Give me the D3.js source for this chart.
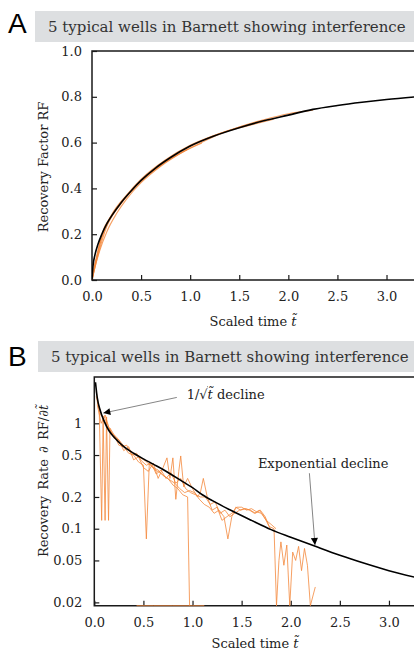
<!DOCTYPE html>
<html>
<head>
<meta charset="utf-8">
<script src="https://cdn.jsdelivr.net/npm/d3@7"></script>
<style>
  body { margin: 0; background: #fff; }
  svg { display: block; }
  text { font-family: "DejaVu Serif", serif; fill: #222; }
</style>
</head>
<body>
<svg id="chart" width="414" height="652"></svg>
<script>
// ---- data ----
const panelTitle = '5 typical wells in Barnett showing interference';
const xTicks = [0, 0.5, 1.0, 1.5, 2.0, 2.5, 3.0];
const rfTicks = [0, 0.2, 0.4, 0.6, 0.8, 1.0];
const rateTicks = [0.02, 0.05, 0.1, 0.2, 0.5, 1];

// scaling curve, recovery factor vs scaled time
const modelT  = [0, 0.01, 0.03, 0.06, 0.1, 0.15, 0.2, 0.3, 0.4, 0.5, 0.65, 0.8, 1.0, 1.25, 1.5, 1.75, 2.0, 2.25, 2.5, 2.75, 3.0, 3.3];
const modelRF = [0, 0.06, 0.11, 0.155, 0.2, 0.245, 0.28, 0.34, 0.39, 0.435, 0.49, 0.535, 0.585, 0.63, 0.665, 0.695, 0.72, 0.745, 0.762, 0.776, 0.788, 0.80];

// scaling curve, recovery rate vs scaled time
const modelRateT = [0.012, 0.03, 0.06, 0.1, 0.15, 0.2, 0.3, 0.4, 0.5, 0.6, 0.7, 0.8, 0.9, 1.0, 1.1, 1.25, 1.4, 1.6, 1.8, 2.0, 2.25, 2.5, 2.75, 3.0, 3.3];
const modelRate  = [2.45, 1.75, 1.33, 1.05, 0.85, 0.74, 0.6, 0.52, 0.46, 0.41, 0.365, 0.32, 0.28, 0.245, 0.21, 0.175, 0.148, 0.12, 0.098, 0.083, 0.068, 0.056, 0.047, 0.04, 0.034];

// wells: recovery factor [t, RF]
const wellsRF = [
  [[0,0],[0.02,0.05],[0.05,0.1],[0.1,0.185],[0.2,0.275],[0.3,0.338],[0.4,0.388],[0.5,0.432],[0.7,0.5],[0.9,0.553],[1.1,0.597],[1.3,0.636],[1.5,0.668],[1.75,0.7],[2.0,0.726],[2.25,0.742]],
  [[0,0],[0.03,0.055],[0.08,0.13],[0.15,0.21],[0.25,0.29],[0.35,0.352],[0.5,0.425],[0.7,0.497],[0.97,0.57]],
  [[0,0],[0.03,0.07],[0.1,0.19],[0.2,0.285],[0.35,0.37],[0.5,0.44],[0.75,0.525],[1.0,0.588],[1.25,0.632],[1.5,0.668],[1.75,0.698]],
  [[0,0],[0.04,0.08],[0.1,0.2],[0.2,0.283],[0.4,0.39],[0.6,0.47],[0.8,0.535],[1.0,0.583],[1.3,0.64],[1.6,0.675],[1.85,0.702]],
  [[0,0],[0.05,0.09],[0.15,0.235],[0.3,0.335],[0.5,0.433],[0.8,0.53],[1.12,0.598]]
];

// wells: recovery rate [t, rate], 0 = no production that month
const wellsRate = [
  [[0.03,1.6],[0.08,1.15],[0.13,0.95],[0.18,0.8],[0.23,0.72],[0.28,0.6],[0.33,0.62],[0.38,0.5],[0.43,0.52],[0.48,0.44],[0.53,0.4],[0.58,0.42],[0.63,0.33],[0.68,0.36],[0.73,0.3],[0.78,0.34],[0.83,0.27],[0.88,0.3],[0.93,0.24],[0.98,0.22],[1.03,0.21],[1.08,0.2],[1.13,0.2],[1.18,0.17],[1.23,0.18],[1.28,0.14],[1.33,0.15],[1.38,0.13],[1.43,0.14],[1.48,0.15],[1.53,0.155],[1.58,0.15],[1.63,0.14],[1.68,0.15],[1.73,0.13],[1.78,0.105],[1.83,0.1],[1.855,0],[1.88,0.05],[1.9,0.075],[1.93,0.045],[1.96,0.07],[1.99,0],[2.02,0.06],[2.05,0.05],[2.08,0.068],[2.11,0.04],[2.14,0.065],[2.17,0.045],[2.2,0],[2.25,0.028]],
  [[0.02,2.0],[0.05,1.35],[0.075,0.12],[0.09,1.1],[0.11,0.12],[0.125,1.15],[0.145,0.12],[0.16,0.9],[0.2,0.78],[0.25,0.62],[0.3,0.6],[0.35,0.52],[0.4,0.5],[0.45,0.43],[0.5,0.4],[0.53,0.08],[0.56,0.42],[0.6,0.38],[0.65,0.36],[0.7,0.32],[0.75,0.3],[0.8,0.26],[0.85,0.24],[0.9,0.21],[0.95,0.2],[0.97,0]],
  [[0.02,1.8],[0.06,1.2],[0.1,1.15],[0.14,0.95],[0.18,0.8],[0.22,0.75],[0.27,0.66],[0.32,0.58],[0.37,0.55],[0.42,0.5],[0.47,0.47],[0.52,0.44],[0.57,0.4],[0.62,0.36],[0.67,0.34],[0.72,0.31],[0.77,0.29],[0.82,0.27],[0.87,0.24],[0.92,0.22],[0.97,0.23],[1.02,0.22],[1.07,0.19],[1.12,0.17],[1.17,0.16],[1.22,0.14],[1.27,0.15],[1.32,0.13],[1.36,0.08],[1.4,0.13],[1.44,0.16],[1.49,0.15],[1.54,0.155],[1.59,0.15],[1.64,0.14],[1.69,0.15],[1.74,0.13],[1.79,0.1]],
  [[0.03,1.5],[0.07,1.0],[0.11,1.2],[0.15,0.9],[0.2,0.72],[0.25,0.7],[0.3,0.55],[0.35,0.6],[0.4,0.45],[0.45,0.48],[0.5,0.38],[0.55,0.35],[0.6,0.42],[0.65,0.3],[0.7,0.38],[0.74,0.47],[0.77,0.3],[0.8,0.47],[0.83,0.19],[0.86,0.35],[0.88,0.49],[0.91,0.25],[0.95,0.3],[1.0,0.24],[1.05,0.2],[1.08,0.22],[1.11,0.3],[1.15,0.2],[1.2,0.15],[1.25,0.16],[1.3,0.12],[1.35,0.13],[1.4,0.14],[1.45,0.16],[1.5,0.16],[1.55,0.15],[1.6,0.155],[1.65,0.145],[1.7,0.14],[1.75,0.12],[1.8,0.11],[1.85,0.1]],
  [[0.43,0],[0.6,0],[0.8,0],[1.0,0],[1.12,0]]
];

// ---- layout ----
const svg = d3.select('#chart');
const W = 414;
const tickFont = '13px';
const orange = '#f4883c';

const xA = d3.scaleLinear().domain([0, 3.28]).range([92, W]);
const yA = d3.scaleLinear().domain([0, 1]).range([280, 51]);
const xB = d3.scaleLinear().domain([0, 3.255]).range([94.3, W]);
const yB = d3.scaleLog().domain([0.0186, 2.75]).range([605.7, 377]);

const defs = svg.append('defs');
defs.append('clipPath').attr('id', 'clipA')
  .append('rect').attr('x', xA(0)).attr('y', yA(1)).attr('width', W - xA(0)).attr('height', yA(0) - yA(1));
defs.append('clipPath').attr('id', 'clipB')
  .append('rect').attr('x', xB(0)).attr('y', yB.range()[1]).attr('width', W - xB(0)).attr('height', yB.range()[0] - yB.range()[1] + 1);
defs.append('marker')
  .attr('id', 'head')
  .attr('viewBox', '0 0 10 10')
  .attr('refX', 10).attr('refY', 5)
  .attr('markerWidth', 9).attr('markerHeight', 7)
  .attr('markerUnits', 'userSpaceOnUse')
  .attr('orient', 'auto')
  .append('path').attr('d', 'M0,0L10,5L0,10Z').attr('fill', '#000');

// panel letter + grey title band
const header = (letter, y0, boxX, letterBase) => {
  svg.append('rect')
    .attr('x', boxX).attr('y', y0)
    .attr('width', W - boxX).attr('height', 31)
    .attr('fill', '#dddfe1');
  svg.append('text')
    .attr('x', boxX + 13).attr('y', y0 + 15.5)
    .attr('dy', '0.35em')
    .style('font-size', '15px')
    .style('fill', '#333')
    .text(panelTitle);
  svg.append('text')
    .attr('x', 8).attr('y', letterBase)
    .style('font-family', '"Liberation Sans", "DejaVu Sans", Arial, sans-serif')
    .style('font-size', '28px')
    .style('fill', '#000')
    .text(letter);
};
header('A', 11, 35, 33);
header('B', 341, 38, 366);

// spines: top, left, bottom (right edge is cut by the frame)
const spines = (g, x0, yTop, yBot) => {
  g.append('path')
    .attr('d', `M${W + 2},${yTop}H${x0}V${yBot}H${W + 2}`)
    .attr('fill', 'none')
    .attr('stroke', '#1a1a1a')
    .attr('stroke-width', 1.5);
};

const styleAxis = g => {
  g.attr('font-family', null);
  g.select('.domain').remove();
  g.selectAll('line').attr('stroke', '#1a1a1a').attr('stroke-width', 1.2);
  g.selectAll('text').style('font-size', tickFont).style('fill', '#222');
};

// ---------- panel A ----------
const gA = svg.append('g');
spines(gA, xA(0), yA(1), yA(0));

gA.append('g')
  .attr('transform', `translate(0, ${yA(0)})`)
  .call(d3.axisBottom(xA).tickValues(xTicks).tickFormat(d3.format('.1f')).tickSizeInner(-5).tickSizeOuter(0).tickPadding(12))
  .call(styleAxis);
gA.append('g')
  .attr('transform', `translate(${xA(0)}, 0)`)
  .call(d3.axisLeft(yA).tickValues(rfTicks).tickFormat(d3.format('.1f')).tickSizeInner(-5).tickSizeOuter(0).tickPadding(10))
  .call(styleAxis);

const lineA = d3.line().x(d => xA(d[0])).y(d => yA(d[1])).curve(d3.curveMonotoneX);
const plotA = gA.append('g').attr('clip-path', 'url(#clipA)');
plotA.selectAll('.well')
  .data(wellsRF)
  .enter()
  .append('path')
  .attr('class', 'well')
  .attr('d', lineA)
  .attr('fill', 'none')
  .attr('stroke', orange)
  .attr('stroke-opacity', 0.8)
  .attr('stroke-width', 1.1);
plotA.append('path')
  .attr('d', lineA(modelT.map((t, i) => [t, modelRF[i]])))
  .attr('fill', 'none')
  .attr('stroke', '#000')
  .attr('stroke-width', 1.6);

gA.append('text')
  .attr('x', 253).attr('y', 321).attr('dy', '0.35em')
  .attr('text-anchor', 'middle')
  .style('font-size', tickFont)
  .call(t => {
    t.append('tspan').text('Scaled time ');
    t.append('tspan').style('font-style', 'italic').text('t\u0303');
  });
gA.append('text')
  .attr('transform', `translate(43, 167) rotate(-90)`)
  .attr('dy', '0.35em')
  .attr('text-anchor', 'middle')
  .style('font-size', tickFont)
  .text('Recovery Factor RF');

// ---------- panel B ----------
const gB = svg.append('g');
spines(gB, xB(0), yB.range()[1], yB.range()[0]);

gB.append('g')
  .attr('transform', `translate(0, ${yB.range()[0]})`)
  .call(d3.axisBottom(xB).tickValues(xTicks).tickFormat(d3.format('.1f')).tickSizeInner(-5).tickSizeOuter(0).tickPadding(12))
  .call(styleAxis);
gB.append('g')
  .attr('transform', `translate(${xB(0)}, 0)`)
  .call(d3.axisLeft(yB).tickValues(rateTicks).tickFormat(d => String(d)).tickSizeInner(-5).tickSizeOuter(0).tickPadding(12))
  .call(styleAxis);

const floorB = yB.domain()[0];
const lineB = d3.line().x(d => xB(d[0])).y(d => yB(d[1] > 0 ? d[1] : floorB));
const plotB = gB.append('g').attr('clip-path', 'url(#clipB)');
plotB.selectAll('.well')
  .data(wellsRate)
  .enter()
  .append('path')
  .attr('class', 'well')
  .attr('d', lineB)
  .attr('fill', 'none')
  .attr('stroke', orange)
  .attr('stroke-opacity', 0.8)
  .attr('stroke-width', 1);
plotB.append('path')
  .attr('d', lineB.curve(d3.curveMonotoneX)(modelRateT.map((t, i) => [t, modelRate[i]])))
  .attr('fill', 'none')
  .attr('stroke', '#000')
  .attr('stroke-width', 1.6);

// annotations, positioned in data coordinates
const notes = [
  { from: [0.84, 1.76], to: [0.092, 1.25], at: [0.94, 1.7], anchor: 'start', sqrt: true },
  { from: [2.19, 0.336], to: [2.247, 0.07], at: [2.33, 0.38], anchor: 'middle', text: 'Exponential decline' }
];
notes.forEach(n => {
  gB.append('line')
    .attr('x1', xB(n.from[0])).attr('y1', yB(n.from[1]))
    .attr('x2', xB(n.to[0])).attr('y2', yB(n.to[1]))
    .attr('stroke', '#666')
    .attr('stroke-width', 0.8)
    .attr('marker-end', 'url(#head)');
  const t = gB.append('text')
    .attr('x', xB(n.at[0])).attr('y', yB(n.at[1]))
    .attr('text-anchor', n.anchor)
    .style('font-size', tickFont);
  if (n.sqrt) {
    t.append('tspan').text('1/\u221A');
    t.append('tspan').style('font-style', 'italic').style('text-decoration', 'overline').text('t\u0303');
    t.append('tspan').text(' decline');
  } else {
    t.text(n.text);
  }
});

gB.append('text')
  .attr('x', 255).attr('y', 643).attr('dy', '0.35em')
  .attr('text-anchor', 'middle')
  .style('font-size', tickFont)
  .call(t => {
    t.append('tspan').text('Scaled time ');
    t.append('tspan').style('font-style', 'italic').text('t\u0303');
  });
gB.append('text')
  .attr('transform', `translate(43, 481) rotate(-90)`)
  .attr('dy', '0.35em')
  .attr('text-anchor', 'middle')
  .style('font-size', tickFont)
  .style('word-spacing', '2px')
  .call(t => {
    t.append('tspan').text('Recovery Rate ');
    t.append('tspan').style('font-style', 'italic').text('\u2202');
    t.append('tspan').text(' RF/');
    t.append('tspan').style('font-style', 'italic').text('\u2202t\u0303');
  });
</script>
</body>
</html>
